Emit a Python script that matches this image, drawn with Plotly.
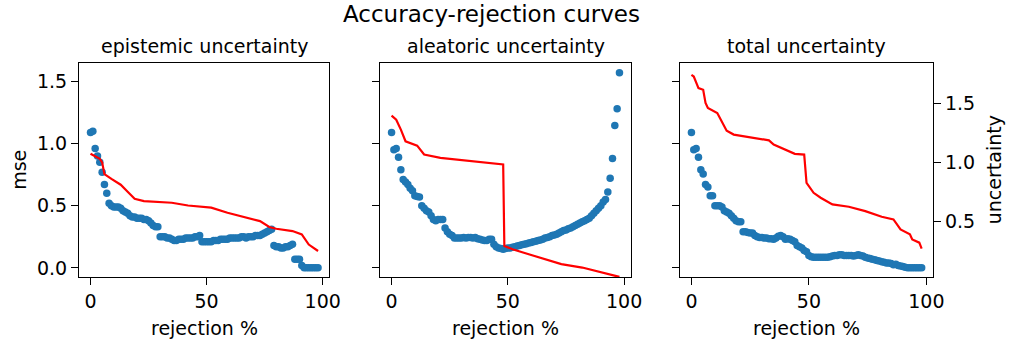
import plotly.graph_objects as go

# ---------------- data ----------------
rejection = list(range(99))

mse_epistemic = [1.09, 1.10, 0.96, 0.90, 0.85, 0.77, 0.67, 0.60, 0.52, 0.50,
                 0.49, 0.49, 0.49, 0.48, 0.46, 0.45, 0.44, 0.42, 0.41, 0.41,
                 0.40, 0.40, 0.40, 0.39, 0.39, 0.38, 0.36, 0.34, 0.33, 0.33,
                 0.25, 0.25, 0.25, 0.24, 0.24, 0.23, 0.22, 0.22, 0.23, 0.23,
                 0.23, 0.24, 0.24, 0.24, 0.24, 0.25, 0.25, 0.26, 0.21, 0.21,
                 0.21, 0.21, 0.21, 0.22, 0.22, 0.22, 0.23, 0.23, 0.23, 0.23,
                 0.24, 0.24, 0.24, 0.24, 0.24, 0.25, 0.25, 0.24, 0.25, 0.25,
                 0.25, 0.26, 0.26, 0.26, 0.27, 0.28, 0.29, 0.30, 0.31, 0.18,
                 0.17, 0.17, 0.16, 0.16, 0.17, 0.17, 0.18, 0.19, 0.07, 0.07,
                 0.07, 0.02, 0.0, 0.0, 0.0, 0.0, 0.0, 0.0, 0.0]

mse_aleatoric = [1.09, 0.95, 0.96, 0.89, 0.79, 0.71, 0.69, 0.67, 0.64, 0.62,
                 0.58, 0.575, 0.57, 0.50, 0.48, 0.46, 0.45, 0.42, 0.39, 0.38,
                 0.39, 0.39, 0.39, 0.32, 0.29, 0.27, 0.26, 0.24, 0.24, 0.24,
                 0.24, 0.245, 0.24, 0.245, 0.245, 0.24, 0.245, 0.235, 0.23, 0.225,
                 0.22, 0.22, 0.23, 0.23, 0.19, 0.17, 0.16, 0.155, 0.15, 0.155,
                 0.16, 0.16, 0.165, 0.17, 0.175, 0.18, 0.185, 0.19, 0.195, 0.20,
                 0.205, 0.21, 0.215, 0.22, 0.225, 0.23, 0.24, 0.245, 0.25, 0.26,
                 0.265, 0.27, 0.28, 0.29, 0.30, 0.305, 0.315, 0.32, 0.33, 0.34,
                 0.35, 0.36, 0.37, 0.38, 0.39, 0.40, 0.42, 0.44, 0.46, 0.48,
                 0.50, 0.53, 0.55, 0.61, 0.72, 0.88, 1.145, 1.28, 1.57]

mse_total = [1.09, 0.95, 0.96, 0.89, 0.79, 0.755, 0.67, 0.65, 0.58, 0.58,
             0.50, 0.50, 0.50, 0.49, 0.46, 0.45, 0.44, 0.42, 0.40, 0.38,
             0.37, 0.37, 0.29, 0.29, 0.285, 0.28, 0.28, 0.26, 0.25, 0.245,
             0.245, 0.24, 0.24, 0.235, 0.235, 0.23, 0.24, 0.255, 0.26, 0.25,
             0.23, 0.235, 0.23, 0.22, 0.21, 0.18, 0.17, 0.16, 0.14, 0.13,
             0.10, 0.09, 0.085, 0.085, 0.085, 0.085, 0.085, 0.085, 0.085, 0.09,
             0.095, 0.10, 0.10, 0.105, 0.105, 0.10, 0.10, 0.10, 0.10, 0.095,
             0.10, 0.105, 0.10, 0.095, 0.085, 0.08, 0.075, 0.07, 0.065, 0.06,
             0.055, 0.05, 0.045, 0.04, 0.04, 0.035, 0.025, 0.03, 0.02, 0.015,
             0.01, 0.005, 0.0, 0.0, 0.0, 0.0, 0.0, 0.0, 0.0]

unc_epistemic_x = [0, 2, 4, 5, 6, 9, 13, 16, 19, 23, 35, 42, 52, 59, 66, 73, 77, 80, 87, 91, 94, 98]
unc_epistemic = [1.073, 1.05, 1.03, 1.0, 0.90, 0.86, 0.81, 0.75, 0.69, 0.67, 0.656,
                 0.633, 0.614, 0.571, 0.537, 0.50, 0.45, 0.435, 0.415, 0.387, 0.30, 0.245]

unc_aleatoric_x = [0, 2, 4, 6, 11, 14, 21, 35, 48, 48.5, 52, 59, 66, 73, 82, 90, 98]
unc_aleatoric = [1.398, 1.364, 1.279, 1.18, 1.143, 1.067, 1.039, 1.01, 0.982, 0.288,
                 0.26, 0.217, 0.175, 0.133, 0.104, 0.067, 0.025]

unc_total_x = [0, 1, 3, 5, 6, 7, 11, 13, 15, 18, 24, 33, 35, 41, 44, 48, 49, 52, 55,
               60, 67, 74, 81, 86, 89, 93, 94, 97, 98]
unc_total = [1.746, 1.732, 1.633, 1.619, 1.506, 1.463, 1.42, 1.35, 1.27, 1.237, 1.217,
             1.188, 1.152, 1.095, 1.073, 1.067, 0.826, 0.741, 0.699, 0.642, 0.622,
             0.585, 0.537, 0.514, 0.429, 0.387, 0.344, 0.316, 0.265]

panel_titles = ["epistemic uncertainty", "aleatoric uncertainty", "total uncertainty"]
suptitle = "Accuracy-rejection curves"
x_ticks = [0, 50, 100]
mse_ticks = [0.0, 0.5, 1.0, 1.5]
unc_ticks = [0.5, 1.0, 1.5]

# ---------------- layout geometry ----------------
W, H = 1024, 341
FONT = "DejaVu Sans"
BLUE = "#1f77b4"
RED = "#ff0000"

x_domains_px = [(80, 333), (384.3, 637.7), (687.3, 943.3)]
y_top_px, y_bot_px = 62.7, 278.0
ydom = [(H - y_bot_px) / H, (H - y_top_px) / H]

def px_x(v):
    return v / W

def px_y(v):
    return (H - v) / H

mse_series = [mse_epistemic, mse_aleatoric, mse_total]
unc_series = [(unc_epistemic_x, unc_epistemic), (unc_aleatoric_x, unc_aleatoric),
              (unc_total_x, unc_total)]

fig = go.Figure()

for i in range(3):
    xa = "x" if i == 0 else f"x{i+1}"
    ya = "y" if i == 0 else f"y{i+1}"
    ya2 = f"y{i+4}"
    fig.add_trace(go.Scatter(x=rejection, y=mse_series[i], mode="markers",
                             marker=dict(color=BLUE, size=7.5, line=dict(width=0)),
                             xaxis=xa, yaxis=ya, showlegend=False))
    fig.add_trace(go.Scatter(x=unc_series[i][0], y=unc_series[i][1], mode="lines",
                             line=dict(color=RED, width=2.2),
                             xaxis=xa, yaxis=ya2, showlegend=False))

axis_common = dict(showgrid=False, zeroline=False, showline=True, linecolor="black",
                   linewidth=1.3, mirror=True, ticks="outside", ticklen=7, tickwidth=1.3,
                   tickcolor="black", tickfont=dict(family=FONT, size=19, color="black"))

layout = dict(width=W, height=H, autosize=False,
              margin=dict(l=0, r=0, t=0, b=0),
              paper_bgcolor="white", plot_bgcolor="white",
              showlegend=False)

for i in range(3):
    xk = "xaxis" if i == 0 else f"xaxis{i+1}"
    yk = "yaxis" if i == 0 else f"yaxis{i+1}"
    yk2 = f"yaxis{i+4}"
    ya = "y" if i == 0 else f"y{i+1}"
    xa = "x" if i == 0 else f"x{i+1}"
    layout[xk] = dict(axis_common, domain=[px_x(x_domains_px[i][0]), px_x(x_domains_px[i][1])],
                      range=[-4.9, 102.9], tickmode="array", tickvals=x_ticks,
                      ticktext=[str(t) for t in x_ticks], anchor=ya)
    layout[yk] = dict(axis_common, domain=ydom, range=[-0.075, 1.652], tickmode="array",
                      tickvals=mse_ticks, ticktext=[f"{t:.1f}" for t in mse_ticks],
                      showticklabels=(i == 0), anchor=xa)
    layout[yk2] = dict(showgrid=False, zeroline=False, overlaying=ya, side="right",
                       range=[0.022, 1.851], anchor=xa,
                       showline=False,
                       ticks="outside" if i == 2 else "",
                       ticklen=7, tickwidth=1.3, tickcolor="black",
                       tickmode="array", tickvals=unc_ticks,
                       ticktext=[f"{t:.1f}" for t in unc_ticks],
                       showticklabels=(i == 2),
                       tickfont=dict(family=FONT, size=19, color="black"))

annotations = []
annotations.append(dict(text=suptitle, x=px_x(496.7), y=px_y(14), xref="paper", yref="paper",
                        showarrow=False, font=dict(family=FONT, size=23, color="black"),
                        xanchor="center", yanchor="middle"))
for i in range(3):
    cx = (x_domains_px[i][0] + x_domains_px[i][1]) / 2
    annotations.append(dict(text=panel_titles[i], x=px_x(cx), y=px_y(46), xref="paper",
                            yref="paper", showarrow=False,
                            font=dict(family=FONT, size=19, color="black"),
                            xanchor="center", yanchor="middle"))
    annotations.append(dict(text="rejection %", x=px_x(cx), y=px_y(329), xref="paper",
                            yref="paper", showarrow=False,
                            font=dict(family=FONT, size=19, color="black"),
                            xanchor="center", yanchor="middle"))
annotations.append(dict(text="mse", x=px_x(18.5), y=px_y(170), xref="paper", yref="paper",
                        showarrow=False, textangle=-90,
                        font=dict(family=FONT, size=19, color="black"),
                        xanchor="center", yanchor="middle"))
annotations.append(dict(text="uncertainty", x=px_x(1004.5), y=px_y(170), xref="paper",
                        yref="paper", showarrow=False, textangle=-90,
                        font=dict(family=FONT, size=19, color="black"),
                        xanchor="center", yanchor="middle"))
layout["annotations"] = annotations

fig.update_layout(**layout)
fig.write_html("out.html")
